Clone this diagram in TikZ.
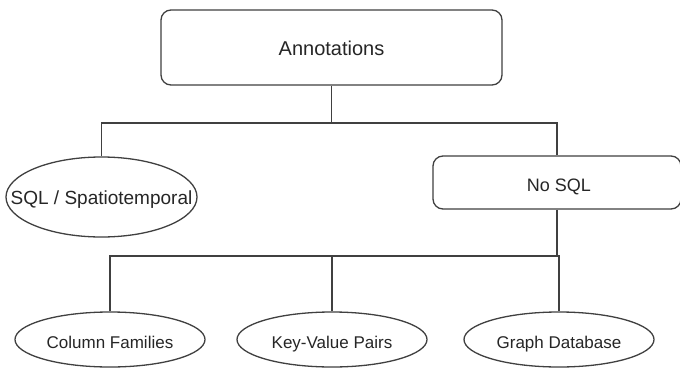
\documentclass[tikz,border=0pt]{standalone}
\usepackage{fontspec}
\setmainfont{Liberation Sans}
\usetikzlibrary{shapes.geometric}
\definecolor{linec}{HTML}{404040}
\definecolor{textc}{HTML}{262626}
\begin{document}
\begin{tikzpicture}[x=1pt,y=1pt,
  conn/.style={draw=linec,line width=1.3pt},
  rbox/.style={draw=linec,line width=1.3pt,rounded corners=10pt,inner sep=0pt},
  ell/.style={ellipse,draw=linec,line width=1.3pt,inner sep=0pt},
  lbl/.style={anchor=base,inner sep=0pt,text=textc}]
\clip (0,0) rectangle (680,368);
\fill[white] (0,0) rectangle (680,368);
\node[rbox,minimum width=341pt,minimum height=75pt] (ann) at (331.5,320.5) {};
\node[lbl,font=\fontsize{20}{24}\selectfont] (annt) at (331.5,312.8) {Annotations};
\node[rbox,minimum width=248pt,minimum height=53pt] (nosql) at (557,185.5) {};
\node[lbl,font=\fontsize{18}{22}\selectfont] (nosqlt) at (559,176.6) {No SQL};
\node[ell,minimum width=191pt,minimum height=80pt] (sql) at (101.5,171) {};
\node[lbl,font=\fontsize{19}{23}\selectfont] (sqlt) at (101.5,163.2) {SQL / Spatiotemporal};
\node[ell,minimum width=190pt,minimum height=55pt] (cf) at (110,28.5) {};
\node[ell,minimum width=190pt,minimum height=55pt] (kv) at (332,28.5) {};
\node[ell,minimum width=190pt,minimum height=55pt] (gd) at (559,28.5) {};
\node[lbl,font=\fontsize{17}{20}\selectfont] (cft) at (110,19.9) {Column Families};
\node[lbl,font=\fontsize{17}{20}\selectfont] (kvt) at (332,19.9) {Key-Value Pairs};
\node[lbl,font=\fontsize{17}{20}\selectfont] (gdt) at (559,19.9) {Graph Database};
\coordinate (j1) at (331.5,245);
\coordinate (j2) at (557,112);
\draw[conn] (ann.south) -- (j1);
\draw[conn] (sql.north) -- (sql.north |- j1) -- (nosql.north |- j1) -- (nosql.north);
\draw[conn] (nosql.south) -- (j2);
\draw[conn] (cf.north) -- (cf.north |- j2) -- (gd.north |- j2) -- (gd.north);
\draw[conn] (kv.north) -- (kv.north |- j2);
\end{tikzpicture}
\end{document}
